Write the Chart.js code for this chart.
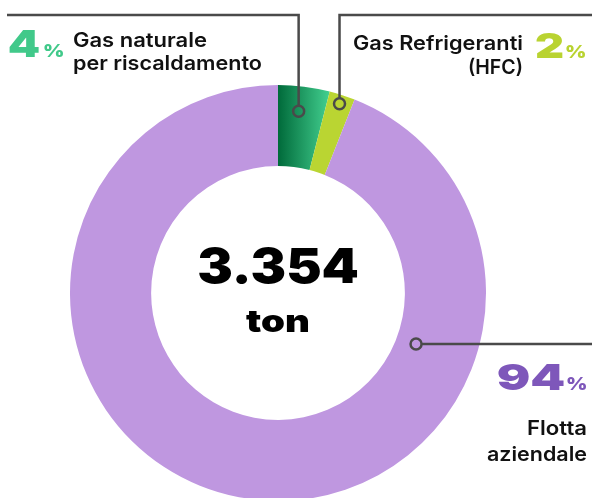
<!DOCTYPE html>
<html>
<head>
<meta charset="utf-8">
<script src="https://cdn.jsdelivr.net/npm/chart.js@4.4.1/dist/chart.umd.min.js"></script>
<style>
    html, body { margin: 0; padding: 0; background: #fff; overflow: hidden; }
    #wrap { position: relative; width: 592px; height: 498px; overflow: hidden; }
    canvas { display: block; }
</style>
</head>
<body>
<div id="wrap"><canvas id="chart-emissioni" width="592" height="520"></canvas></div>
<script>
// dati
const labels = ['Gas naturale per riscaldamento', 'Gas Refrigeranti (HFC)', 'Flotta aziendale'];
const shares = [4, 2, 94];
const labelLines = [
    ['Gas naturale', 'per riscaldamento'],
    ['Gas Refrigeranti', '(HFC)'],
    ['Flotta', 'aziendale']
];
const totalValue = '3.354';
const totalUnit = 'ton';

const sliceColors = ['#1f9a60', '#bad532', '#bf97e0'];
const percentColors = ['#41c98a', '#b9d331', '#7e57ba'];
const lineColor = '#4a4a4a';

const heavyFont = '900 40px Inter';
const labelFont = '600 20px Inter';
const dark = '#111111';

const ctx = document.getElementById('chart-emissioni');

function greenGradient(context) {
    const chart = context.chart;
    const area = chart.chartArea;
    if (!area) {
        return sliceColors[0];
    }
    const cx = (area.left + area.right) / 2;
    const r = Math.min(area.width, area.height) / 2;
    const g = chart.ctx.createLinearGradient(cx, 0, cx + r * Math.sin(2 * Math.PI * shares[0] / 100), 0);
    g.addColorStop(0, '#006a3a');
    g.addColorStop(1, '#43d090');
    return g;
}

// testo allargato fino alla larghezza voluta
function fitText(c, str, x, y, font, color, align, width) {
    c.save();
    c.font = font;
    c.fillStyle = color;
    c.textAlign = 'left';
    c.textBaseline = 'alphabetic';
    const w = c.measureText(str).width;
    let left = x;
    if (align === 'right') left = x - width;
    if (align === 'center') left = x - width / 2;
    c.translate(left, y);
    c.scale(width / w, 1);
    c.fillText(str, 0, 0);
    c.restore();
}

// testo scalato sull'inchiostro: larghezza e altezza
function fitInk(c, str, x, y, font, color, align, width, height) {
    c.save();
    c.font = font;
    c.fillStyle = color;
    c.textAlign = 'left';
    c.textBaseline = 'alphabetic';
    const m = c.measureText(str);
    const inkW = m.actualBoundingBoxLeft + m.actualBoundingBoxRight;
    const inkH = m.actualBoundingBoxAscent;
    const sx = width / inkW;
    const sy = height / inkH;
    let left = x;
    if (align === 'right') left = x - width;
    if (align === 'center') left = x - width / 2;
    c.translate(left, y);
    c.scale(sx, sy);
    c.fillText(str, m.actualBoundingBoxLeft, 0);
    c.restore();
}

// punto del richiamo su ogni fetta
const anchors = [
    { t: 0.45, r: 0.69 },
    { t: 0.5, r: 0.89 },
    { t: 0.262, r: 0.25 }
];

function anchorPoint(arc, a) {
    const ang = arc.startAngle + (arc.endAngle - arc.startAngle) * a.t;
    const rad = arc.innerRadius + (arc.outerRadius - arc.innerRadius) * a.r;
    return { x: arc.x + rad * Math.cos(ang), y: arc.y + rad * Math.sin(ang) };
}

const labelsPlugin = {
    id: 'labelsPlugin',
    afterDraw(chart) {
        const c = chart.ctx;
        const arcs = chart.getDatasetMeta(0).data;
        const pts = arcs.map((arc, i) => anchorPoint(arc, anchors[i]));
        const cr = 5.5;

        c.save();
        c.strokeStyle = lineColor;
        c.lineWidth = 2.5;
        c.lineJoin = 'miter';

        c.beginPath();
        c.moveTo(pts[0].x, pts[0].y - cr);
        c.lineTo(pts[0].x, 15);
        c.lineTo(7, 15);
        c.stroke();

        c.beginPath();
        c.moveTo(pts[1].x, pts[1].y - cr);
        c.lineTo(pts[1].x, 15);
        c.lineTo(600, 15);
        c.stroke();

        c.beginPath();
        c.moveTo(pts[2].x + cr, pts[2].y);
        c.lineTo(600, pts[2].y);
        c.stroke();

        pts.forEach(p => {
            c.beginPath();
            c.arc(p.x, p.y, cr, 0, Math.PI * 2);
            c.stroke();
        });
        c.restore();

        // 4%
        fitInk(c, String(shares[0]), 9, 57, heavyFont, percentColors[0], 'left', 30, 27);
        fitInk(c, '%', 44, 57, heavyFont, percentColors[0], 'left', 19, 13);
        fitText(c, labelLines[0][0], 73, 47, labelFont, dark, 'left', 134);
        fitText(c, labelLines[0][1], 73, 70, labelFont, dark, 'left', 189);

        // 2%
        fitText(c, labelLines[1][0], 523, 50, labelFont, dark, 'right', 170);
        fitText(c, labelLines[1][1], 523, 74, labelFont, dark, 'right', 55);
        fitInk(c, String(shares[1]), 536, 58, heavyFont, percentColors[1], 'left', 27, 25);
        fitInk(c, '%', 566, 58, heavyFont, percentColors[1], 'left', 19, 13);

        // 94%
        fitInk(c, String(shares[2]), 498, 390, heavyFont, percentColors[2], 'left', 66, 26);
        fitInk(c, '%', 567, 390, heavyFont, percentColors[2], 'left', 19, 13);
        fitText(c, labelLines[2][0], 587, 435, labelFont, dark, 'right', 60);
        fitText(c, labelLines[2][1], 587, 461, labelFont, dark, 'right', 100);

        // centro
        const cx = arcs[0].x;
        fitInk(c, totalValue, cx, 283, heavyFont, '#000', 'center', 159, 35);
        fitInk(c, totalUnit, cx - 1, 332, heavyFont, '#000', 'center', 62, 22);
    }
};

function drawChart() {
    new Chart(ctx, {
        type: 'doughnut',
        data: {
            labels: labels,
            datasets: [{
                data: shares,
                backgroundColor: function (context) {
                    if (context.dataIndex === 0) {
                        return greenGradient(context);
                    }
                    return sliceColors[context.dataIndex];
                },
                borderWidth: 0,
                hoverOffset: 0
            }]
        },
        options: {
            responsive: false,
            animation: false,
            cutout: '61%',
            layout: {
                padding: { left: 70, top: 85, right: 106, bottom: 19 }
            },
            plugins: {
                legend: { display: false },
                tooltip: { enabled: false }
            }
        },
        plugins: [labelsPlugin]
    });
}

Promise.all([
    document.fonts.load(heavyFont),
    document.fonts.load(labelFont)
]).then(drawChart, drawChart);
</script>
</body>
</html>
